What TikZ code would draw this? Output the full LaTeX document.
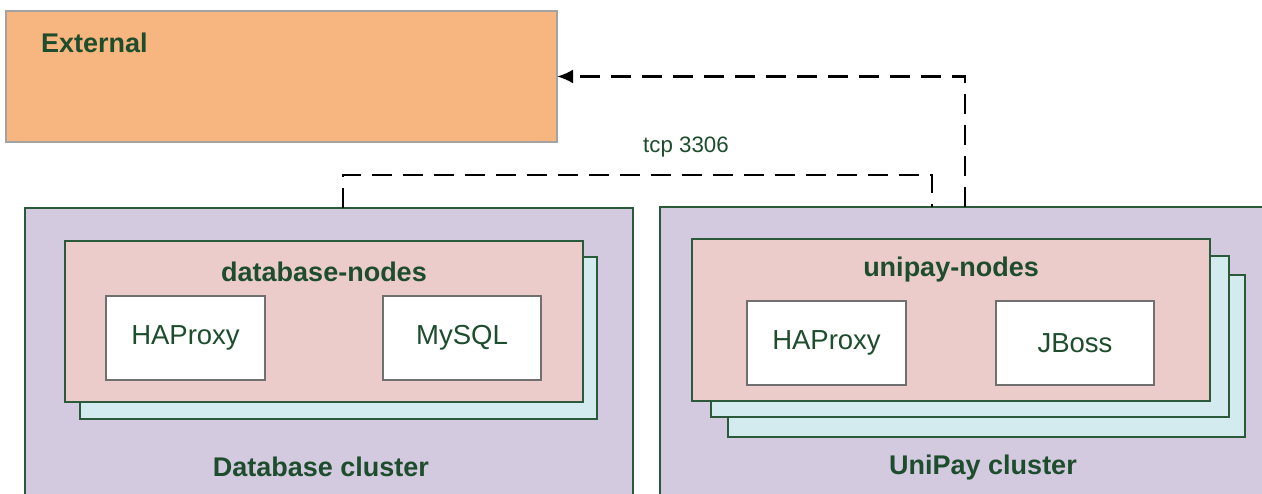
\documentclass[tikz,border=0pt]{standalone}
\usepackage{fontspec}
\setmainfont{Liberation Sans}
\usetikzlibrary{arrows.meta,calc}
\definecolor{extfill}{HTML}{F7B57F}
\definecolor{extline}{HTML}{A3A3A3}
\definecolor{clfill}{HTML}{D3CADF}
\definecolor{grline}{HTML}{2A5A3A}
\definecolor{pinkfill}{HTML}{EBCCCB}
\definecolor{cyanfill}{HTML}{D3EBEF}
\definecolor{txt}{HTML}{1D4D2C}
\definecolor{boxline}{HTML}{707070}
\begin{document}
\begin{tikzpicture}[x=1pt,y=-1pt,
  base/.style={rectangle,inner sep=0pt,outer sep=0pt,anchor=north west},
  extbox/.style={base,fill=extfill,draw=extline,line width=1.2pt},
  clbox/.style={base,fill=clfill,draw=grline,line width=1.4pt},
  pinkbox/.style={base,fill=pinkfill,draw=grline,line width=1.4pt},
  cyanbox/.style={base,fill=cyanfill,draw=grline,line width=1.4pt},
  svcbox/.style={base,fill=white,draw=boxline,line width=1.4pt,text=txt,
    font=\fontsize{27.5}{30}\selectfont,minimum width=159pt,minimum height=84pt},
  title/.style={text=txt,inner sep=0pt,font=\fontsize{27}{30}\selectfont\bfseries},
  lbl/.style={text=txt,inner sep=0pt,font=\fontsize{22.3}{25}\selectfont},
  conn/.style={draw=black,line width=2.5pt,dash pattern=on 20pt off 11pt},
]
\useasboundingbox (0,0) rectangle (1262,494);
% External
\node[extbox,minimum width=551pt,minimum height=131pt] (ext) at (6,11) {};
\node[title,anchor=west] (exttitle) at (41,43) {External};
% Database cluster
\node[clbox,minimum width=608pt,minimum height=320pt] (dbc) at (25,208) {};
\node[cyanbox,minimum width=517pt,minimum height=162pt] (dbs) at (80,257) {};
\node[pinkbox,minimum width=518pt,minimum height=161pt] (dbn) at (65,241) {};
\node[title] (dbntitle) at (324,272) {database-nodes};
\node[svcbox] (dbha) at (106,296) {HAProxy};
\node[svcbox,minimum width=158pt] (dbmy) at (383,296) {MySQL};
\node[title] (dbctitle) at (321,467) {Database cluster};
% UniPay cluster
\node[clbox,minimum width=620pt,minimum height=320pt] (upc) at (660,207) {};
\node[cyanbox,minimum width=517pt,minimum height=162pt] (ups2) at (728,275) {};
\node[cyanbox,minimum width=518pt,minimum height=161pt] (ups1) at (711,256) {};
\node[pinkbox,minimum width=518pt,minimum height=162pt] (upn) at (692,239) {};
\node[title] (upntitle) at (951,270) {unipay-nodes};
\node[svcbox] (upha) at (747,301) {HAProxy};
\node[svcbox,minimum width=158pt] (upjb) at (996,301) {JBoss};
\node[title] (upctitle) at (983,468) {UniPay cluster};
% connectors
\draw[conn] ([xshift=318pt]dbc.north west) -- ++(0,-33) -| ([xshift=272pt]upc.north west);
\node[lbl] (tcp) at (686,147) {tcp 3306};
\draw[conn,-{Latex[length=16pt,width=14pt]}] ([xshift=305pt]upc.north west) |- (ext.east);
\end{tikzpicture}
\end{document}
